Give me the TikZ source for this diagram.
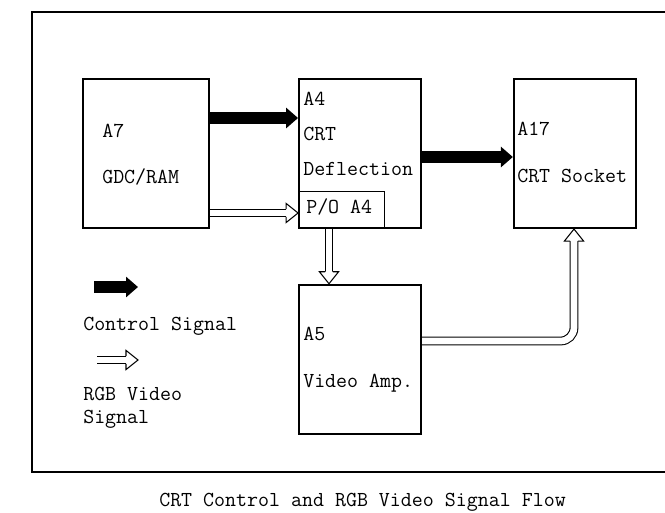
\documentclass[tikz,border=0pt]{standalone}
\usepackage{tikz}
\usetikzlibrary{arrows.meta, positioning, calc}
\tikzset{
    unitBox/.style={draw=black, line width=1.6pt, minimum width=91.5pt, minimum height=111.75pt, inner sep=0pt},
    poBox/.style={draw=black, line width=0.8pt, anchor=south west, minimum width=64.5pt, minimum height=27.75pt, inner sep=0pt},
    boxText/.style={anchor=base west, inner sep=0pt, font=\fontsize{16}{19}\selectfont\ttfamily},
    ctrlArrow/.style={-{Triangle[length=9pt, width=15pt]}, line width=8.5pt},
    rgbLine/.style={draw=black, line width=0.8pt, double=white, double distance=5pt},
    pics/rgbTip/.style={code={
        \draw[line width=0.8pt, fill=white] (-9pt,-2.9pt) -- (-9pt,-7.2pt) -- (0,0) -- (-9pt,7.2pt) -- (-9pt,2.9pt);
    }}
}

\begin{document}
\begin{tikzpicture}[x=0.75pt, y=-0.75pt]
    \useasboundingbox (0,0) rectangle (665,512);
    % outer frame, open to the right
    \draw[line width=1.5pt] (32,12) rectangle (700,472);

    \node[unitBox, minimum width=94.5pt] (a7) at (146,153.5) {};
    \node[unitBox, right=66pt of a7] (a4) {};
    \node[unitBox, right=68pt of a4] (a17) {};
    \node[unitBox, below=41pt of a4] (a5) {};
    \node[poBox] (po) at (a4.south west) {};

    \node[boxText] (a7Id)   at (102,137) {A7};
    \node[boxText] (a7Name) at (102,183) {GDC/RAM};
    \node[boxText] (a4Id)   at (303,105) {A4};
    \node[boxText] (a4Crt)  at (303,140) {CRT};
    \node[boxText] (a4Name) at (303,175) {Deflection};
    \node[boxText] (poName) at (306,213) {P/O A4};
    \node[boxText] (a17Id)  at (517,135) {A17};
    \node[boxText] (a17Name) at (517,182) {CRT Socket};
    \node[boxText] (a5Id)   at (303,340) {A5};
    \node[boxText] (a5Name) at (303,387) {Video Amp.};

    % control signals
    \coordinate (rowCtrl) at (0,118);
    \coordinate (rowDefl) at (0,157);
    \draw[ctrlArrow] (a7.east |- rowCtrl) -- (a4.west |- rowCtrl);
    \draw[ctrlArrow] (a4.east |- rowDefl) -- (a17.west |- rowDefl);

    % rgb video
    \coordinate (rowRgb) at (0,213);
    \coordinate (colPo) at (329,0);
    \coordinate (colSock) at (574,0);
    \coordinate (rowAmp) at (0,341);
    \draw[rgbLine] (a7.east |- rowRgb) -- ($(a4.west |- rowRgb)+(-9pt,0)$);
    \pic at (a4.west |- rowRgb) {rgbTip};
    \draw[rgbLine] (po.south -| colPo) -- ($(a5.north -| colPo)+(0,9pt)$);
    \pic[rotate=-90] at (a5.north -| colPo) {rgbTip};
    \draw[rgbLine, rounded corners=10pt] (a5.east |- rowAmp) -- (colSock |- rowAmp) -- ($(a17.south -| colSock)+(0,-9pt)$);
    \pic[rotate=90] at (a17.south -| colSock) {rgbTip};

    % key
    \coordinate (keyCtrlA) at (94,287);  \coordinate (keyCtrlB) at (138,287);
    \coordinate (keyRgbA) at (97,360);   \coordinate (keyRgbB) at (138,360);
    \draw[ctrlArrow] (keyCtrlA) -- (keyCtrlB);
    \draw[rgbLine] (keyRgbA) -- ($(keyRgbB)+(-9pt,0)$);
    \pic at (keyRgbB) {rgbTip};
    \node[boxText] (keyCtrlText) at (83,330) {Control Signal};
    \node[boxText] (keyRgbText)  at (83,400) {RGB Video};
    \node[boxText] (keyRgbText2) at (83,423) {Signal};

    \node[boxText] (caption) at (159,506) {CRT Control and RGB Video Signal Flow};
\end{tikzpicture}
\end{document}
